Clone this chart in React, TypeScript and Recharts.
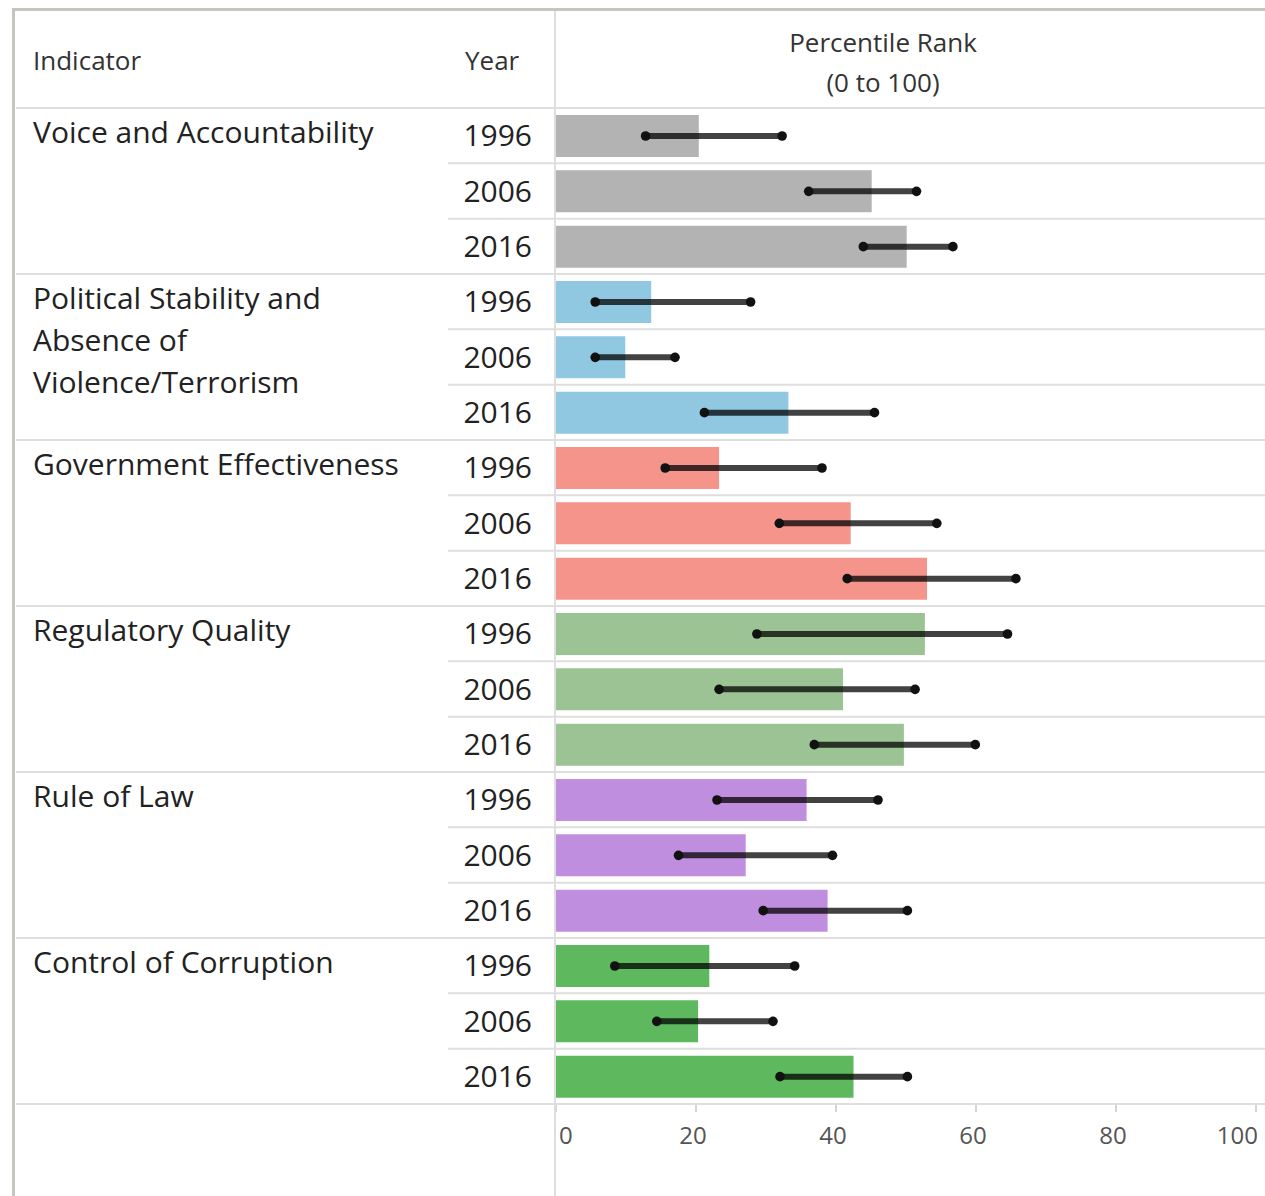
import React from 'react'
import { ComposedChart, Bar, Cell, XAxis, YAxis } from 'recharts'

const INDICATORS = [
  ['Voice and Accountability'],
  ['Political Stability and', 'Absence of', 'Violence/Terrorism'],
  ['Government Effectiveness'],
  ['Regulatory Quality'],
  ['Rule of Law'],
  ['Control of Corruption'],
]
const YEARS = ['1996', '2006', '2016']
const COLORS = ['#b3b3b3', '#90c8e2', '#f4948a', '#9cc394', '#c08edf', '#5db85e']

// percentile rank, one row per indicator x year
const RANK = [20.4, 45.1, 50.1, 13.6, 9.9, 33.2, 23.3, 42.1, 53.0, 52.7, 41.0, 49.7, 35.8, 27.1, 38.8, 21.9, 20.3, 42.5]
const LOWER = [12.8, 36.1, 43.9, 5.6, 5.6, 21.2, 15.6, 31.9, 41.6, 28.7, 23.3, 36.9, 23.0, 17.5, 29.6, 8.4, 14.4, 32.0]
const UPPER = [32.3, 51.5, 56.7, 27.8, 17.0, 45.5, 38.0, 54.4, 65.7, 64.5, 51.3, 59.9, 46.0, 39.5, 50.2, 34.1, 31.0, 50.2]
const X_TICKS = [0, 20, 40, 60, 80, 100]

const ROWS = RANK.map((rank, i) => ({
  key: `r${i}`,
  group: Math.floor(i / 3),
  year: YEARS[i % 3],
  rank,
  range: [LOWER[i], UPPER[i]],
}))

const FONT = '"Open Sans", "Noto Sans", sans-serif'
const W = 1265
const H = 1196
const LINE = '#dedede'

function RowTick(props: any) {
  const { y, index, payload } = props
  const half = payload?.offset ?? 27.67
  const row = ROWS[index]
  const first = index % 3 === 0
  const top = y - half
  return (
    <g>
      <line x1={first ? 16 : 448} x2={W} y1={top} y2={top} stroke={LINE} strokeWidth={2} />
      {index === ROWS.length - 1 && (
        <line x1={16} x2={W} y1={y + half} y2={y + half} stroke={LINE} strokeWidth={2} />
      )}
      <text x={532} y={y} dy="0.36em" textAnchor="end" fontFamily={FONT} fontSize={30} fill="#222">
        {row.year}
      </text>
      {first &&
        INDICATORS[row.group].map((t, k) => (
          <text key={k} x={33} y={y - 3 + k * 42} dy="0.36em" fontFamily={FONT} fontSize={30} fill="#222">
            {t}
          </text>
        ))}
    </g>
  )
}

function XTick(props: any) {
  const { x, y, index, payload } = props
  const last = index === X_TICKS.length - 1
  const anchor = index === 0 ? 'start' : last ? 'end' : 'middle'
  const dx = index === 0 ? 3 : last ? 2 : -3
  return (
    <text x={x + dx} y={y + 21} dy="0.36em" textAnchor={anchor} fontFamily={FONT} fontSize={24} fill="#555">
      {payload.value}
    </text>
  )
}

function Whisker(props: any) {
  const { x, y, width, height } = props
  if (x == null || width == null) return null
  const cy = y + height / 2
  return (
    <g>
      <line x1={x} x2={x + width} y1={cy} y2={cy} stroke="rgba(0,0,0,0.74)" strokeWidth={6} strokeLinecap="round" />
      <circle cx={x} cy={cy} r={4.8} fill="#111" />
      <circle cx={x + width} cy={cy} r={4.8} fill="#111" />
    </g>
  )
}

export default function App() {
  return (
    <div style={{ position: 'absolute', left: 0, top: 0, width: W, height: H, background: '#fff', overflow: 'hidden' }}>
      <ComposedChart
        width={W}
        height={H}
        layout="vertical"
        data={ROWS}
        margin={{ top: 108, right: 9, bottom: 0, left: 0 }}
      >
        <XAxis
          type="number"
          domain={[0, 100]}
          ticks={X_TICKS}
          height={92}
          axisLine={false}
          tickSize={8}
          tickLine={{ stroke: '#d4d4d4', strokeWidth: 2 }}
          tick={<XTick />}
          interval={0}
        />
        <YAxis
          yAxisId="rows"
          type="category"
          dataKey="key"
          width={556}
          axisLine={false}
          tickLine={false}
          tick={<RowTick />}
          interval={0}
        />
        <YAxis yAxisId="err" type="category" dataKey="key" hide />
        <Bar yAxisId="rows" dataKey="rank" barSize={42} isAnimationActive={false}>
          {ROWS.map((r) => (
            <Cell key={r.key} fill={COLORS[r.group]} />
          ))}
        </Bar>
        <Bar yAxisId="err" dataKey="range" barSize={42} shape={<Whisker />} isAnimationActive={false} />
      </ComposedChart>

      {/* frame and column divider */}
      <div style={{ position: 'absolute', left: 12, top: 8, width: W, height: 3, background: '#c6c6be' }} />
      <div style={{ position: 'absolute', left: 12, top: 8, width: 3, height: H, background: '#c6c6be' }} />
      <div style={{ position: 'absolute', left: 554, top: 11, width: 2, height: H, background: LINE }} />

      {/* header */}
      <div style={{ position: 'absolute', left: 33, top: 40, lineHeight: '40px', fontFamily: FONT, fontSize: 26, color: '#333' }}>Indicator</div>
      <div style={{ position: 'absolute', left: 465, top: 40, lineHeight: '40px', fontFamily: FONT, fontSize: 26, color: '#333' }}>Year</div>
      <div
        style={{
          position: 'absolute', left: 556, width: 654, top: 22, textAlign: 'center',
          fontFamily: FONT, fontSize: 26, lineHeight: '40px', color: '#333',
        }}
      >
        Percentile Rank
        <br />
        (0 to 100)
      </div>
    </div>
  )
}
